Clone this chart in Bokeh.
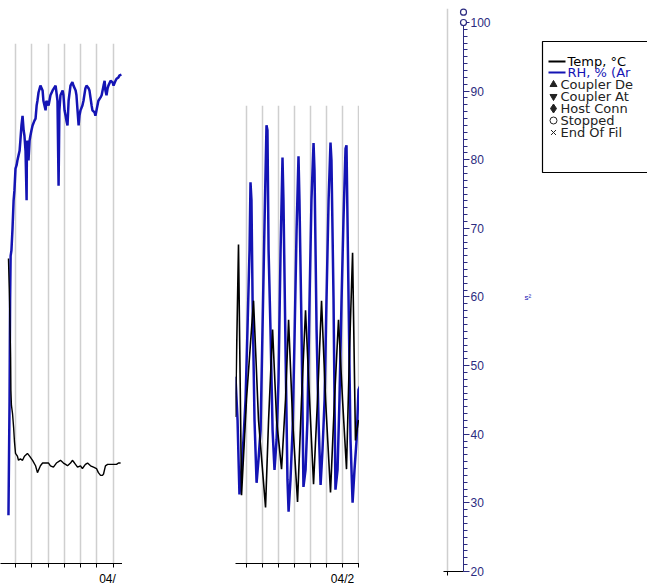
from bokeh.plotting import figure
from bokeh.models import Range1d, FixedTicker, SingleIntervalTicker, Spacer
from bokeh.layouts import row
from bokeh.embed import file_html
from bokeh.resources import INLINE
from bokeh.core.properties import value

FONT = "Liberation Sans"
LEG_FONT = "DejaVu Sans"
RH_COLOR = "#1414b4"
TEMP_COLOR = "#000000"
AXIS_BLUE = "#2b2b80"
GRID = "#cfcfcf"

# ---------------- data: panel 1 (hours) ----------------
p1_rh_hours = [-2.6, -2.2, -2.0, -1.8, -1.5, -1.1, -0.7, -0.4, 0, 0.4, 0.7, 1.1, 1.5, 1.8, 2.2, 2.6,
               3.0, 3.3, 3.7, 4.1, 4.2, 4.4, 4.8, 5.2, 5.5, 5.9, 6.3, 7.0, 7.4, 7.8, 8.1, 8.5, 9.2, 10.0,
               10.3, 10.7, 11.1, 11.4, 12.2, 12.9, 13.7, 14.8, 15.5, 15.9, 16.2, 16.6, 17.4, 17.7, 18.1,
               18.5, 18.8, 19.2, 19.6, 20.3, 21.0, 21.4, 22.2, 22.5, 22.9, 23.3, 23.6, 24.0, 24.7, 25.1,
               25.8, 26.2, 27.0, 27.3, 28.1, 28.4, 29.2, 29.5, 29.9, 30.6, 31.4, 31.8, 32.5, 32.9, 33.2,
               33.6, 34.0, 34.3, 35.1, 35.8, 36.2, 36.9, 37.3, 38.0, 38.4, 39.1]
p1_rh = [28.2, 44.9, 59.5, 66.0, 66.8, 70.0, 74.1, 75.5, 78.7, 79.2, 79.9, 80.6, 81.3, 82.8, 85.0, 86.4,
         84.3, 83.5, 81.3, 74.1, 81.3, 82.8, 79.9, 82.8, 83.5, 84.3, 85.0, 85.7, 86.0, 87.9, 88.6, 89.8, 90.8,
         90.1, 88.6, 87.9, 87.2, 88.6, 87.9, 89.4, 90.1, 90.8, 88.6, 76.2, 87.2, 89.4, 90.1, 89.4, 87.2,
         86.4, 85.7, 85.0, 88.6, 90.8, 91.3, 90.8, 90.1, 89.4, 87.2, 85.0, 86.4, 87.2, 87.9, 88.6,
         90.4, 90.8, 90.4, 90.1, 87.9, 87.2, 86.9, 86.4, 87.2, 88.6, 89.1, 89.4, 90.8, 91.5, 90.1,
         89.4, 90.4, 90.8, 91.5, 91.3, 90.8, 91.5, 91.8, 92.0, 92.3, 92.4]
p1_temp_hours = [-2.6, -2.2, -2.0, -1.8, -1.7, -1.5, -1.1, -0.7, -0.4, 0, 0.7, 1.1, 1.8, 2.6, 3.3, 4.4,
                 5.2, 6.3, 7.4, 8.1, 9.2, 10.0, 11.1, 12.2, 12.9, 14.0, 15.1, 16.6, 17.7, 18.5, 19.2, 20.3,
                 21.0, 21.8, 22.9, 24.0, 24.7, 25.8, 26.6, 27.7, 28.8, 29.9, 30.6, 31.4, 32.1, 32.5, 33.2,
                 34.0, 35.1, 36.2, 37.3, 38.0, 38.8]
p1_temp = [32.8, 29.7, 27.6, 25.6, 23.2, 22.1, 21.5, 20.5, 19.5, 18.6, 18.4, 18.1, 18.2, 18.1, 18.4, 18.6,
           18.4, 18.1, 17.7, 17.2, 17.7, 17.9, 17.9, 17.9, 17.7, 17.6, 17.9, 18.1, 17.9, 17.8, 17.7, 17.9,
           18.1, 17.9, 17.6, 17.7, 17.5, 17.8, 17.9, 17.7, 17.6, 17.5, 17.2, 17.0, 17.0, 17.1, 17.7,
           17.8, 17.8, 17.8, 17.8, 17.9, 17.9]
p1_grid_hours = [0, 6, 12, 18, 24, 30, 36]
p1_date_tick = 36
p1_date_label = "04/\u00a0\u00a0"

# ---------------- data: panel 2 (days) ----------------
p2_rh_days = [-0.69, -0.56, -0.44, -0.31, -0.19, -0.06, 0.06, 0.19, 0.25, 0.31, 0.38, 0.5, 0.63, 0.75, 0.88,
              1.0, 1.13, 1.25, 1.31, 1.38, 1.5, 1.63, 1.75, 1.88, 2.0, 2.13, 2.25, 2.31, 2.44, 2.56, 2.63,
              2.75, 2.88, 3.0, 3.13, 3.25, 3.31, 3.44, 3.56, 3.69, 3.81, 3.94, 4.06, 4.19, 4.25, 4.38, 4.5,
              4.63, 4.75, 4.88, 5.0, 5.13, 5.25, 5.31, 5.44, 5.56, 5.69, 5.81, 5.94, 6.06, 6.19, 6.25,
              6.38, 6.5, 6.63, 6.75, 6.88, 7.0, 7.13]
p2_rh = [48.3, 42.0, 31.1, 34.7, 39.1, 44.9, 55.1, 66.8, 76.7, 74.1, 59.5, 42.0, 32.8, 36.2, 40.5,
         55.1, 71.1, 85.0, 84.3, 66.8, 55.1, 40.5, 34.7, 39.1, 47.8, 66.8, 80.3, 74.1, 52.2, 33.3, 28.6,
         33.3, 40.5, 53.7, 69.7, 80.5, 74.1, 55.1, 32.2, 34.7, 42.0, 59.5, 74.1, 82.4, 78.4, 55.1, 42.0,
         32.5, 37.6, 44.9, 59.5, 74.1, 82.5, 79.9, 59.5, 31.8, 34.7, 44.9, 59.5, 71.1, 81.6, 82.1,
         59.5, 39.1, 29.9, 34.7, 39.1, 46.4, 47.1]
p2_temp_days = [-0.69, -0.5, -0.31, 0, 0.44, 0.75, 1.19, 1.38, 1.63, 1.88, 2.19, 2.44, 2.63, 2.88, 3.19,
                3.44, 3.69, 3.94, 4.19, 4.44, 4.69, 4.94, 5.25, 5.5, 5.75, 6.0, 6.25, 6.44, 6.63, 6.81, 7.0]
p2_temp = [21.2, 33.8, 15.5, 22.5, 29.7, 21.0, 14.6, 21.0, 27.6, 21.0, 17.4, 22.5, 28.3, 21.0, 15.0,
           22.5, 29.0, 22.5, 16.3, 22.5, 29.7, 22.5, 15.7, 22.5, 28.3, 22.5, 17.4, 26.1, 33.2, 19.5, 21.0]
p2_grid_days = [0, 1, 2, 3, 4, 5, 6, 7]
p2_date_tick = 6
p2_date_label = "04/2"

# ---------------- RH axis + events ----------------
rh_axis_min, rh_axis_max = 20, 100
stopped_x = [1.0, 1.0]
stopped_y = [100.0, 101.5]

legend_labels = ["Temp, \u00b0C", "RH, % (Ar", "Coupler De", "Coupler At",
                 "Host Conn", "Stopped", "End Of Fil"]
legend_colors = [TEMP_COLOR, RH_COLOR, "#222222", "#222222", "#222222", "#222222", "#222222"]
legend_markers = ["triangle", "inverted_triangle", "diamond", "circle", "x"]

H = 588


def panel(width, xr, rh_r, t_r, top, bottom, grid_ticks, date_tick, date_label):
    p = figure(width=width, height=H, x_range=Range1d(*xr), y_range=Range1d(*rh_r),
               output_backend="svg", toolbar_location=None, y_axis_location=None,
               min_border_left=0, min_border_right=0, min_border_top=top, min_border_bottom=bottom,
               frame_align=False)
    p.outline_line_color = None
    p.extra_y_ranges = {"temp": Range1d(*t_r)}
    ax = p.xaxis[0]
    ax.ticker = FixedTicker(ticks=grid_ticks, minor_ticks=[])
    ax.major_label_overrides = {t: (date_label if t == date_tick else "") for t in grid_ticks}
    ax.major_tick_in = 0
    ax.major_tick_out = 4
    ax.minor_tick_in = 0
    ax.minor_tick_out = 0
    ax.major_label_text_font = FONT
    ax.major_label_text_font_size = "12px"
    ax.major_label_text_color = "black"
    ax.major_label_standoff = 4
    ax.axis_line_color = "black"
    ax.major_tick_line_color = "black"
    for g in p.xgrid:
        g.ticker = FixedTicker(ticks=grid_ticks)
        g.grid_line_color = GRID
        g.grid_line_width = 1.5
    for g in p.ygrid:
        g.visible = False
    return p


pa = panel(122, (-5.54, 39.5), (21.17, 96.94), (10.58, 48.47), 43, 25,
           p1_grid_hours, p1_date_tick, p1_date_label)
pa.line(p1_rh_hours, p1_rh, line_color=RH_COLOR, line_width=2.5)
pa.line(p1_temp_hours, p1_temp, line_color=TEMP_COLOR, line_width=1.4, y_range_name="temp")

pb = panel(124, (-0.6875, 7.0625), (21.02, 87.90), (10.51, 43.95), 105, 24,
           p2_grid_days, p2_date_tick, p2_date_label)
pb.line(p2_rh_days, p2_rh, line_color=RH_COLOR, line_width=2.5)
pb.line(p2_temp_days, p2_temp, line_color=TEMP_COLOR, line_width=1.6, y_range_name="temp")

# RH axis panel (frame reaches a little above 100 so the event markers show)
pc = figure(width=57, height=H, x_range=Range1d(-0.25, 1.0), y_range=Range1d(rh_axis_min, 102.04),
            output_backend="svg", toolbar_location=None, y_axis_location="right",
            min_border_left=0, min_border_right=37, min_border_top=8, min_border_bottom=17,
            frame_align=False)
pc.outline_line_color = None
yax = pc.yaxis[0]
yax.bounds = (rh_axis_min, rh_axis_max)
yax.ticker = SingleIntervalTicker(interval=10, num_minor_ticks=10)
yax.axis_line_color = AXIS_BLUE
yax.major_tick_line_color = AXIS_BLUE
yax.minor_tick_line_color = AXIS_BLUE
yax.major_tick_in = 0
yax.major_tick_out = 6
yax.minor_tick_in = 0
yax.minor_tick_out = 4
yax.major_label_text_color = AXIS_BLUE
yax.major_label_text_font = FONT
yax.major_label_text_font_size = "12px"
yax.major_label_standoff = 1
xax = pc.xaxis[0]
xax.ticker = FixedTicker(ticks=[0], minor_ticks=[])
xax.major_label_overrides = {0: ""}
xax.major_tick_in = 0
xax.major_tick_out = 4
xax.major_label_text_font_size = "1px"
xax.major_label_standoff = 0
for g in pc.xgrid:
    g.ticker = FixedTicker(ticks=[0])
    g.grid_line_color = GRID
    g.grid_line_width = 1.5
for g in pc.ygrid:
    g.visible = False
pc.scatter(stopped_x, stopped_y, marker="circle", size=6, fill_color="white",
           line_color=AXIS_BLUE, line_width=1.2, level="overlay")

# legend panel (screen-like coordinates)
pdg = figure(width=147, height=H, x_range=Range1d(500, 647), y_range=Range1d(588, 0),
             output_backend="svg", toolbar_location=None, x_axis_location=None, y_axis_location=None,
             min_border=0, frame_align=False)
pdg.outline_line_color = None
pdg.grid.visible = False
rows_y = [61, 72, 84, 96, 108, 120, 132]
pdg.quad(left=[542], right=[720], top=[41], bottom=[172], fill_color="white", line_color="black",
         line_width=1.2)
pdg.segment(x0=[548, 548], x1=[565, 565], y0=rows_y[:2], y1=rows_y[:2],
            line_color=[TEMP_COLOR, RH_COLOR], line_width=2)
pdg.scatter(x=[553] * 5, y=rows_y[2:], marker=legend_markers, size=[7, 7, 9, 7, 7],
            fill_color=["#222222", "#222222", "#222222", None, None],
            line_color="#222222", line_width=1)
pdg.text(x=[567, 567] + [560] * 5, y=rows_y, text=legend_labels, text_color=legend_colors,
         text_font=value(LEG_FONT), text_font_size="13px", text_baseline="middle")
pdg.text(x=[524], y=[297], text=["s\u00b2"], text_color=RH_COLOR, text_font=value(FONT),
         text_font_size="8px", text_baseline="middle")

layout = row(pa, Spacer(width=113, height=H), pb, Spacer(width=84, height=H), pc, pdg)

open("out.html", "w").write(file_html(layout, INLINE))
